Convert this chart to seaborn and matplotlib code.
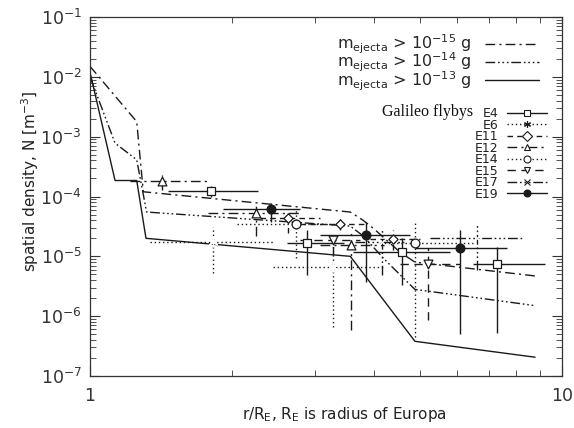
import numpy as np
import pandas as pd
import seaborn as sns
import matplotlib.pyplot as plt
from matplotlib.lines import Line2D
from matplotlib.ticker import LogLocator, NullFormatter, FixedLocator, FixedFormatter

sns.set_style('ticks')
plt.rcParams['font.family'] = ['DejaVu Sans']

# model curves (r/R_E, N in m^-3) for three ejecta mass thresholds
r_m15 = [1.0, 1.256, 1.297, 3.56, 3.79, 3.98, 4.54, 4.88, 8.77]
n_m15 = [1.5e-2, 1.78e-3, 1.2e-4, 5.5e-5, 4.0e-5, 2.96e-5, 1.17e-5, 8.0e-6, 4.7e-6]
r_m14 = [1.0, 1.13, 1.256, 1.318, 3.56, 3.79, 4.2, 4.54, 4.88, 8.77]
n_m14 = [1.0e-2, 7.8e-4, 4.1e-4, 5.5e-5, 3.2e-5, 2.2e-5, 9.0e-6, 4.9e-6, 2.8e-6, 1.5e-6]
r_m13 = [1.0, 1.13, 1.256, 1.314, 3.56, 4.88, 8.77]
n_m13 = [1.2e-2, 1.85e-4, 1.85e-4, 2.0e-5, 1.0e-5, 3.8e-7, 2.06e-7]
model_labels = [r'm$_{\mathregular{ejecta}}$ > 10$^{-15}$ g',
                r'm$_{\mathregular{ejecta}}$ > 10$^{-14}$ g',
                r'm$_{\mathregular{ejecta}}$ > 10$^{-13}$ g']

# Galileo flyby measurements: r, N, r range, N range
flybys = ['E4', 'E6', 'E11', 'E12', 'E14', 'E15', 'E17', 'E19']
e4_r = [1.805, 2.88, 4.58, 7.28]
e4_n = [1.23e-4, 1.66e-5, 1.17e-5, 7.4e-6]
e4_rlo = [1.463, 2.61, 3.61, 6.48]
e4_rhi = [2.27, 3.45, 5.79, 9.20]
e4_nlo = [9.8e-5, 4.85e-6, 3.3e-6, 5.2e-7]
e4_nhi = [1.49e-4, 2.74e-5, 2.01e-5, 1.43e-5]

e6_r = [1.822, 3.27]
e6_n = [1.73e-5, 6.6e-6]
e6_rlo = [1.34, 2.44]
e6_rhi = [2.44, 4.18]
e6_nlo = [5.2e-6, 6.5e-7]
e6_nhi = [3.08e-5, 1.73e-5]

e11_r = [2.63, 3.39, 4.38]
e11_n = [4.36e-5, 3.45e-5, 1.94e-5]
e11_rlo = [2.29, 2.79, 3.92]
e11_rhi = [3.07, 3.86, 5.0]
e11_nlo = [2.44e-5, 2.74e-5, 1.27e-5]
e11_nhi = [5.27e-5, 4.19e-5, 2.74e-5]

e12_r = [1.42, 2.25, 3.57]
e12_n = [1.81e-4, 5.27e-5, 1.54e-5]
e12_rlo = [1.215, 1.78, 3.07]
e12_rhi = [1.78, 2.79, 4.22]
e12_nlo = [1.28e-4, 2.18e-5, 5.8e-7]
e12_nhi = [2.28e-4, 8.05e-5, 2.54e-5]

e14_r = [2.73, 4.88]
e14_n = [3.45e-5, 1.66e-5]
e14_rlo = [2.05, 4.12]
e14_rhi = [3.23, 6.54]
e14_nlo = [9.3e-6, 4.45e-7]
e14_nhi = [5.93e-5, 3.59e-5]

e15_r = [3.27, 5.2]
e15_n = [1.87e-5, 7.4e-6]
e15_rlo = [2.79, 4.54]
e15_rhi = [3.73, 6.08]
e15_nlo = [1.05e-5, 8.6e-7]
e15_nhi = [2.26e-5, 1.37e-5]

e17_r = [4.16, 6.6]
e17_n = [1.73e-5, 2.01e-5]
e17_rlo = [3.64, 5.25]
e17_rhi = [4.65, 8.27]
e17_nlo = [4.85e-6, 5.9e-6]
e17_nhi = [2.74e-5, 3.45e-5]

e19_r = [2.42, 3.84, 6.08]
e19_n = [6.15e-5, 2.26e-5, 1.37e-5]
e19_rlo = [1.91, 3.07, 4.88]
e19_rhi = [2.79, 4.76, 7.65]
e19_nlo = [3.73e-5, 3.7e-6, 5.0e-7]
e19_nhi = [7.76e-5, 3.73e-5, 2.74e-5]

ink = '#1a1a1a'
dashdot = (0, (7, 3, 1.5, 3))
dash3dot = (0, (7, 2, 1.2, 2, 1.2, 2, 1.2, 2))
ls_model = [dashdot, dash3dot, '-']

fb_data = {
    'E4': (e4_r, e4_n, e4_rlo, e4_rhi, e4_nlo, e4_nhi, 's', '-', False),
    'E6': (e6_r, e6_n, e6_rlo, e6_rhi, e6_nlo, e6_nhi, (6, 2, 0), (0, (1, 2)), False),
    'E11': (e11_r, e11_n, e11_rlo, e11_rhi, e11_nlo, e11_nhi, 'D', (0, (4, 3)), False),
    'E12': (e12_r, e12_n, e12_rlo, e12_rhi, e12_nlo, e12_nhi, '^', dashdot, False),
    'E14': (e14_r, e14_n, e14_rlo, e14_rhi, e14_nlo, e14_nhi, 'o', (0, (1, 2)), False),
    'E15': (e15_r, e15_n, e15_rlo, e15_rhi, e15_nlo, e15_nhi, 'v', (0, (6, 4)), False),
    'E17': (e17_r, e17_n, e17_rlo, e17_rhi, e17_nlo, e17_nhi, 'x', dash3dot, False),
    'E19': (e19_r, e19_n, e19_rlo, e19_rhi, e19_nlo, e19_nhi, 'o', '-', True),
}

fig = plt.figure(figsize=(5.74, 4.28), dpi=100)
ax = fig.add_axes([90 / 574, 1 - 376 / 428, 472 / 574, 359 / 428])
ax.set_xscale('log')
ax.set_yscale('log')

for rr, nn, ls in zip([r_m15, r_m14, r_m13], [n_m15, n_m14, n_m13], ls_model):
    sns.lineplot(x=rr, y=nn, ax=ax, color=ink, linewidth=1.0, linestyle=ls, sort=False)

for name in flybys:
    r, n, rlo, rhi, nlo, nhi, mk, ls, filled = fb_data[name]
    r = np.array(r); n = np.array(n)
    xerr = [r - np.array(rlo), np.array(rhi) - r]
    yerr = [n - np.array(nlo), np.array(nhi) - n]
    eb = ax.errorbar(r, n, xerr=xerr, yerr=yerr, fmt='none', ecolor=ink, elinewidth=1.0, capsize=0)
    for col in eb[2]:
        col.set_linestyle(ls)
    sns.scatterplot(x=r, y=n, ax=ax, marker=mk, s=40 if mk != 'D' else 22,
                    facecolor=ink if filled else 'white',
                    edgecolor=ink, linewidth=0.9, zorder=5)

ax.set_xlim(1, 10)
ax.set_ylim(1e-7, 1e-1)

ax.xaxis.set_major_locator(FixedLocator([1, 10]))
ax.xaxis.set_major_formatter(FixedFormatter(['1', '10']))
ax.xaxis.set_minor_locator(LogLocator(base=10, subs=np.arange(2, 10)))
ax.xaxis.set_minor_formatter(NullFormatter())
ax.yaxis.set_major_locator(LogLocator(base=10, numticks=10))
ax.yaxis.set_minor_locator(LogLocator(base=10, subs=np.arange(2, 10), numticks=20))
ax.yaxis.set_minor_formatter(NullFormatter())
ax.tick_params(which='both', direction='in', top=True, right=True, colors='#333333')
ax.tick_params(which='major', length=7, width=0.8, labelsize=12.5)
ax.tick_params(axis='x', which='major', pad=8)
ax.tick_params(axis='y', which='major', pad=6)
ax.tick_params(which='minor', length=4, width=0.6)
for sp in ax.spines.values():
    sp.set_color('#333333')
    sp.set_linewidth(0.9)

ax.set_xlabel(r'r/R$_{\mathregular{E}}$, R$_{\mathregular{E}}$ is radius of Europa', fontsize=11, color='#222222')
ax.set_ylabel(r'spatial density, N [m$^{-3}$]', fontsize=11, color='#222222')
ax.xaxis.set_label_coords(0.538, -0.082)
ax.yaxis.set_label_coords(-0.104, 0.543)

model_handles = [Line2D([], [], color=ink, linewidth=1.0, linestyle=ls) for ls in ls_model]
leg1 = ax.legend(model_handles, model_labels, loc='upper right', bbox_to_anchor=(0.951, 0.955),
                 markerfirst=False, frameon=False, fontsize=11.5, handlelength=3.4,
                 labelspacing=-0.33, borderpad=0, borderaxespad=0, handletextpad=0.8)
ax.add_artist(leg1)

fb_handles = []
for name in flybys:
    r, n, rlo, rhi, nlo, nhi, mk, ls, filled = fb_data[name]
    fb_handles.append(Line2D([], [], color=ink, linewidth=1.0, linestyle=ls, marker=mk,
                             markersize=5, markerfacecolor=ink if filled else 'white',
                             markeredgecolor=ink, markeredgewidth=0.8))
leg2 = ax.legend(fb_handles, flybys, loc='upper right', bbox_to_anchor=(0.968, 0.749),
                 markerfirst=False, frameon=False, fontsize=9, handlelength=3.2,
                 labelspacing=-0.12, borderpad=0, borderaxespad=0, handletextpad=0.7)
for t in leg2.get_texts():
    t.set_color('#222222')
ax.text(0.811, 0.735, 'Galileo flybys', transform=ax.transAxes, ha='right', va='center',
        fontsize=11.5, family='Liberation Serif', color='#111111')

fig.savefig('out.png', dpi=100)
